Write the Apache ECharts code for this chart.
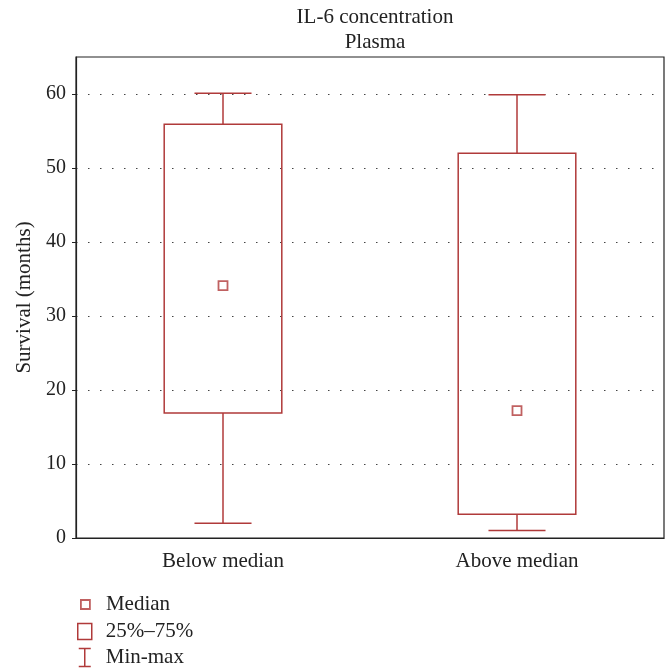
<!DOCTYPE html>
<html>
<head>
<meta charset="utf-8">
<script src="https://cdn.jsdelivr.net/npm/echarts@6/dist/echarts.min.js"></script>
<style>html,body{margin:0;padding:0;background:#fff}#c{width:665px;height:669px}</style>
</head>
<body>
<div id="c"></div>
<script>
const categories = ['Below median', 'Above median'];
const minVals = [2.0, 1.0];
const q1Vals = [16.9, 3.2];
const medianVals = [34.1, 17.2];
const q3Vals = [55.9, 52.0];
const maxVals = [60.1, 59.9];
const yTicks = [0, 10, 20, 30, 40, 50, 60];

const RED = '#b03a3a';
const FONT = '"Liberation Serif", "DejaVu Serif", serif';

const boxData = categories.map((c, i) => [i, q1Vals[i], q3Vals[i]]);
const whiskerData = categories.map((c, i) => [i, minVals[i], q1Vals[i], q3Vals[i], maxVals[i]]);
const medianData = categories.map((c, i) => [i, medianVals[i]]);

const chart = echarts.init(document.getElementById('c'), null, {renderer: 'canvas'});

const option = {
  animation: false,
  backgroundColor: '#fff',
  title: {
    text: 'IL-6 concentration\nPlasma',
    left: 370, textAlign: 'center', top: 0,
    textStyle: {fontFamily: FONT, fontSize: 21, fontWeight: 'normal', color: '#222', lineHeight: 25}
  },
  grid: {left: 76, right: 1, top: 57, bottom: 131, show: true, borderColor: '#222', borderWidth: 1.2, backgroundColor: 'transparent'},
  xAxis: {
    type: 'category', data: categories, boundaryGap: true,
    axisLine: {lineStyle: {color: '#222', width: 1.2}},
    axisTick: {alignWithLabel: true, length: 5, lineStyle: {color: '#222'}},
    axisLabel: {fontFamily: FONT, fontSize: 21, color: '#222', margin: 13},
    splitLine: {show: false}
  },
  yAxis: {
    type: 'value', min: 0, max: 65, interval: 10,
    name: 'Survival (months)', nameLocation: 'middle', nameGap: 38,
    nameTextStyle: {fontFamily: FONT, fontSize: 21, color: '#222'},
    axisLine: {show: true, lineStyle: {color: '#222', width: 1.2}},
    axisTick: {show: true, length: 4, lineStyle: {color: '#222'}, inside: false},
    axisLabel: {fontFamily: FONT, fontSize: 20, color: '#222', margin: 10, showMaxLabel: false,
      padding: [3, 0, 0, 0],
      formatter: v => yTicks.indexOf(v) >= 0 ? String(v) : ''},
    splitLine: {show: true, showMinLine: false, showMaxLine: false, lineStyle: {color: '#444', width: 1, type: [1.5, 10.5]}}
  },
  legend: [
    {data: [{name: 'Median', icon: 'rect'}], orient: 'vertical', left: 80, top: 594, padding: 0,
      itemWidth: 9, itemHeight: 9, itemGap: 0,
      itemStyle: {color: '#fff', borderColor: RED, borderWidth: 1.8},
      textStyle: {fontFamily: FONT, fontSize: 21, color: '#222', padding: [0, 0, 0, 11]}},
    {data: [{name: '25%–75%', icon: 'rect'}], orient: 'vertical', left: 77, top: 621, padding: 0,
      itemWidth: 14, itemHeight: 16, itemGap: 0,
      itemStyle: {color: '#fff', borderColor: RED, borderWidth: 1.5},
      textStyle: {fontFamily: FONT, fontSize: 21, color: '#222', padding: [0, 0, 0, 9]}},
    {data: [{name: 'Min-max', icon: 'path://M0,0 L12,0 M6,0 L6,18 M0,18 L12,18'}], orient: 'vertical', left: 78, top: 647, padding: 0,
      itemWidth: 12, itemHeight: 18, itemGap: 0,
      itemStyle: {color: 'transparent', borderColor: RED, borderWidth: 1.5},
      textStyle: {fontFamily: FONT, fontSize: 21, color: '#222', padding: [0, 0, 0, 10]}}
  ],
  series: [
    {
      name: 'Min-max', type: 'custom', data: whiskerData, z: 2,
      itemStyle: {color: RED},
      renderItem: function (params, api) {
        const x = api.value(0);
        const pMin = api.coord([x, api.value(1)]);
        const pQ1 = api.coord([x, api.value(2)]);
        const pQ3 = api.coord([x, api.value(3)]);
        const pMax = api.coord([x, api.value(4)]);
        const half = api.size([1, 0])[0] * 0.097;
        const st = {stroke: RED, lineWidth: 1.5, fill: null};
        return {type: 'group', children: [
          {type: 'line', shape: {x1: pMax[0], y1: pMax[1], x2: pQ3[0], y2: pQ3[1]}, style: st},
          {type: 'line', shape: {x1: pQ1[0], y1: pQ1[1], x2: pMin[0], y2: pMin[1]}, style: st},
          {type: 'line', shape: {x1: pMax[0] - half, y1: pMax[1], x2: pMax[0] + half, y2: pMax[1]}, style: st},
          {type: 'line', shape: {x1: pMin[0] - half, y1: pMin[1], x2: pMin[0] + half, y2: pMin[1]}, style: st}
        ]};
      }
    },
    {
      name: '25%–75%', type: 'custom', data: boxData, z: 3,
      itemStyle: {color: RED},
      renderItem: function (params, api) {
        const x = api.value(0);
        const pLo = api.coord([x, api.value(1)]);
        const pHi = api.coord([x, api.value(2)]);
        const w = api.size([1, 0])[0] * 0.4;
        return {type: 'rect', shape: {x: pLo[0] - w / 2, y: pHi[1], width: w, height: pLo[1] - pHi[1]},
          style: {fill: 'rgba(255,255,255,0)', stroke: RED, lineWidth: 1.5}};
      }
    },
    {
      name: 'Median', type: 'scatter', data: medianData, z: 4,
      symbol: 'rect', symbolSize: 9,
      itemStyle: {color: '#fff', borderColor: RED, borderWidth: 1.8}
    }
  ]
};
chart.setOption(option);
</script>
</body>
</html>
